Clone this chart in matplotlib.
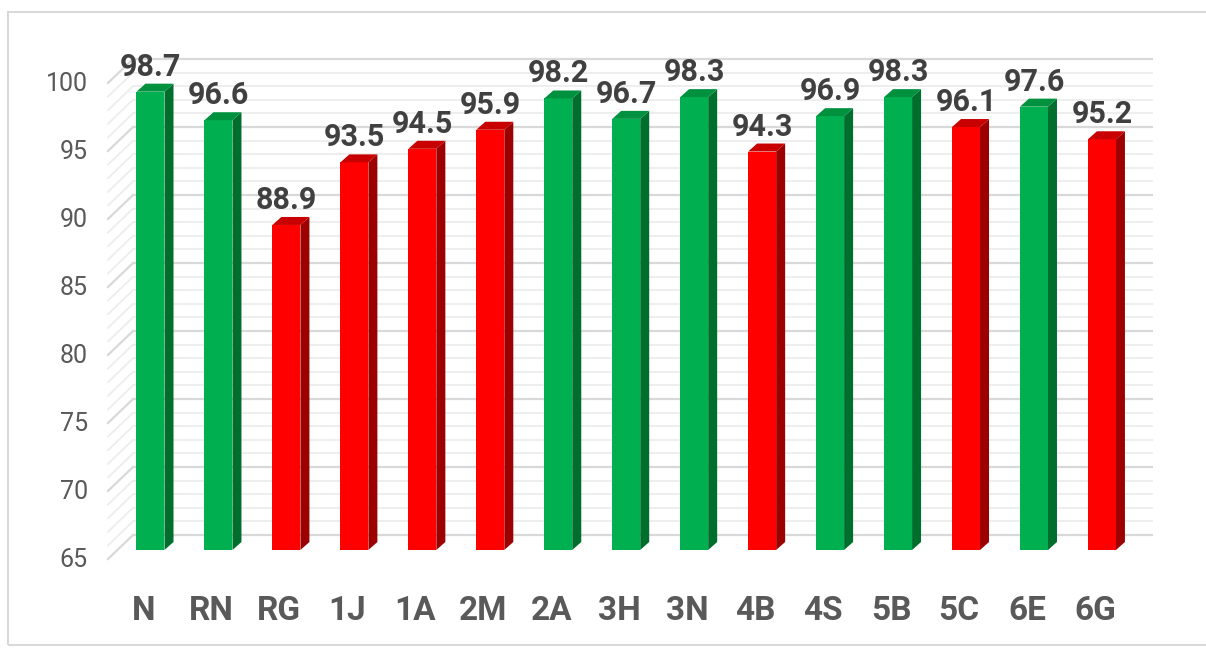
## import libraries ##
import matplotlib
matplotlib.use('Agg')
import matplotlib.pyplot as plt
from matplotlib.patches import Polygon, Rectangle

## data ##
categories = ['N', 'RN', 'RG', '1J', '1A', '2M', '2A', '3H', '3N', '4B', '4S', '5B', '5C', '6E', '6G']
scores = [98.7, 96.6, 88.9, 93.5, 94.5, 95.9, 98.2, 96.7, 98.3, 94.3, 96.9, 98.3, 96.1, 97.6, 95.2]
target = 96.5
y_ticks = [65, 70, 75, 80, 85, 90, 95, 100]

## colours ##
green = ('#00B050', '#00913F', '#006F2E')   # front, top, side
red = ('#FF0000', '#C80000', '#9C0000')

plt.rcParams['font.family'] = ['Roboto', 'DejaVu Sans']

W, H = 1206, 649
fig = plt.figure(figsize=(W / 100, H / 100), dpi=100)
ax = fig.add_axes([0, 0, 1, 1])
ax.axis('off')

# pixel layout of the front plane (from top-left)
x0_px, step_px = 150.5, 67.96     # centre of first bar, spacing
y65_px, unit_px = 550, 13.6       # pixel row of value 65, pixels per unit
ax.set_xlim((0 - x0_px) / step_px, (W - x0_px) / step_px)
ax.set_ylim(65 - (H - y65_px) / unit_px, 65 + y65_px / unit_px)

def px_x(p):
    return p / step_px

def px_y(p):
    return p / unit_px

# back wall and side wall gridlines
wall_left = px_x(133 - x0_px)
wall_right = px_x(1153 - x0_px)
side_front = px_x(108 - x0_px)
for v in range(65, 101):
    major = v % 5 == 0
    c = '#D9D9D9' if major else '#EDEDED'
    lw = 1.6 if major else 1.3
    yb = v + px_y(15)
    ax.plot([wall_left, wall_right], [yb, yb], color=c, lw=lw, zorder=1,
            solid_capstyle='butt')
    ax.plot([side_front, wall_left], [v - px_y(9), yb], color=c, lw=lw, zorder=1)

# 3D-looking bars
bw = px_x(28)
ddx, ddy = px_x(9), px_y(8)
for i, v in enumerate(scores):
    front, top, side = green if v >= target else red
    ax.bar(i, v - 65, bottom=65, width=bw, color=front, zorder=3, linewidth=0)
    r = i + bw / 2
    l = i - bw / 2
    ax.add_patch(Polygon([(r, 65), (r + ddx, 65 + ddy), (r + ddx, v + ddy), (r, v)],
                         closed=True, facecolor=side, edgecolor='none', zorder=3))
    ax.add_patch(Polygon([(l, v), (l + ddx, v + ddy), (r + ddx, v + ddy), (r, v)],
                         closed=True, facecolor=top, edgecolor='none', zorder=3))
    ax.text(i, v + px_y(16), f'{v:.1f}', ha='center', va='baseline',
            fontsize=22, fontweight='bold', color='#404040', zorder=4)
    ax.text(i - px_x(7), 65 - px_y(70), categories[i], ha='center', va='baseline',
            fontsize=24, fontweight='bold', color='#595959', zorder=4)

# y tick labels at the front edge of the side wall
for t in y_ticks:
    ax.text(px_x(88 - x0_px), t - px_y(10), str(t), ha='right', va='center',
            fontsize=18, color='#595959')

# light frame round the chart
fig.add_artist(Rectangle((8 / W, 1 - 645 / H), 1.2, (645 - 12) / H,
                         transform=fig.transFigure, fill=False,
                         edgecolor='#D9D9D9', lw=1.5))

fig.savefig('out.png', dpi=100)
